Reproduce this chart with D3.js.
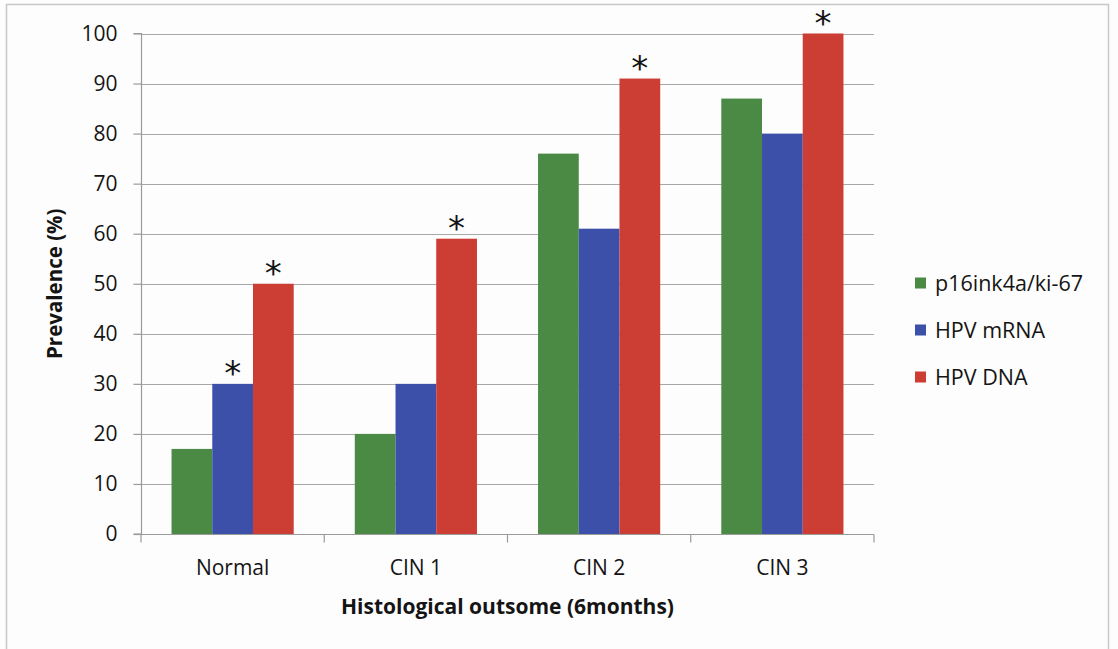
<!DOCTYPE html>
<html>
<head>
<meta charset="utf-8">
<script src="https://cdn.jsdelivr.net/npm/d3@7"></script>
<style>
  html, body { margin: 0; padding: 0; background: #fdfdfd; }
  svg { display: block; }
  text { font-family: "Open Sans", "Noto Sans", sans-serif; fill: #141414; }
</style>
</head>
<body>
<svg id="chart" width="1118" height="649"></svg>
<script>
// Histological outcome groups
const categories = ["Normal", "CIN 1", "CIN 2", "CIN 3"];
// Series names (legend order)
const seriesNames = ["p16ink4a/ki-67", "HPV mRNA", "HPV DNA"];
// Prevalence (%) per group, one array per series
const p16Values  = [17, 20, 76, 87];
const mrnaValues = [30, 30, 61, 80];
const dnaValues  = [50, 59, 91, 100];
// Asterisk markers: [category, series]
const starMarks = [["Normal", "HPV mRNA"], ["Normal", "HPV DNA"], ["CIN 1", "HPV DNA"], ["CIN 2", "HPV DNA"], ["CIN 3", "HPV DNA"]];
const yTicks = [0, 10, 20, 30, 40, 50, 60, 70, 80, 90, 100];

const colors = ["#4b8a45", "#3c50a9", "#cc3d33"];
const seriesValues = [p16Values, mrnaValues, dnaValues];

const svg = d3.select("#chart");

// Outer frame
svg.append("rect")
  .attr("x", 6.5).attr("y", 4.5)
  .attr("width", 1102).attr("height", 660)
  .attr("fill", "#fdfdfd").attr("stroke", "#c8c8c8").attr("stroke-width", 1.5);

const plot = { left: 141, right: 874, top: 33.5, bottom: 534 };

const x0 = d3.scaleBand().domain(categories).range([plot.left, plot.right]).paddingInner(0).paddingOuter(0);
// gap of 150% between groups: bars take 3/4.5 of the band
const x1 = d3.scaleBand().domain(seriesNames).range([0, x0.bandwidth()]).paddingInner(0).paddingOuter(0.75);
const y = d3.scaleLinear().domain([0, 100]).range([plot.bottom, plot.top]);

// Gridlines
svg.append("g").selectAll("line").data(yTicks.filter(t => t > 0)).join("line")
  .attr("x1", plot.left).attr("x2", plot.right)
  .attr("y1", d => Math.round(y(d)) + 0.5).attr("y2", d => Math.round(y(d)) + 0.5)
  .attr("stroke", "#a8a8a8").attr("stroke-width", 1.2);

// Bars
const groups = svg.append("g").selectAll("g").data(categories).join("g")
  .attr("transform", d => `translate(${x0(d)},0)`);
groups.selectAll("rect")
  .data((c, ci) => seriesNames.map((s, si) => ({ s, si, v: seriesValues[si][ci] })))
  .join("rect")
  .attr("x", d => x1(d.s))
  .attr("width", x1.bandwidth())
  .attr("y", d => y(d.v))
  .attr("height", d => y(0) - y(d.v))
  .attr("fill", d => colors[d.si]);

// Y axis
const yAxis = d3.axisLeft(y).tickValues(yTicks).tickSize(8).tickPadding(16);
const gy = svg.append("g").attr("transform", `translate(${plot.left + 0.5},0)`).call(yAxis);
gy.select(".domain").attr("stroke", "#9a9a9a").attr("stroke-width", 1.2).attr("d", `M-8,${plot.bottom}H0V${plot.top}H-8`);
gy.selectAll(".tick line").attr("stroke", "#9a9a9a").attr("stroke-width", 1.2);
gy.selectAll(".tick text").style("font-size", "21px").attr("fill", "#141414").attr("font-family", "Open Sans");

// X axis baseline and group separators
const gx = svg.append("g").attr("transform", `translate(0,${plot.bottom + 0.5})`);
gx.append("line").attr("x1", plot.left).attr("x2", plot.right).attr("stroke", "#9a9a9a").attr("stroke-width", 1.2);
const bounds = categories.map(c => x0(c)).concat([plot.right]);
gx.selectAll("line.sep").data(bounds).join("line").attr("class", "sep")
  .attr("x1", d => d).attr("x2", d => d).attr("y1", 0).attr("y2", 8)
  .attr("stroke", "#9a9a9a").attr("stroke-width", 1.2);
gx.selectAll("text.cat").data(categories).join("text").attr("class", "cat")
  .attr("x", d => x0(d) + x0.bandwidth() / 2)
  .attr("y", 40)
  .attr("text-anchor", "middle")
  .style("font-size", "21px")
  .text(d => d);

// Asterisks above bars
svg.append("g").selectAll("text").data(starMarks).join("text")
  .attr("x", d => x0(d[0]) + x1(d[1]) + x1.bandwidth() / 2)
  .attr("y", d => y(seriesValues[seriesNames.indexOf(d[1])][categories.indexOf(d[0])]) + 1)
  .attr("text-anchor", "middle")
  .style("font-size", "34px")
  .style("font-family", "DejaVu Sans")
  .text("*");

// Axis titles
svg.append("text")
  .attr("transform", `translate(62,${(plot.top + plot.bottom) / 2}) rotate(-90)`)
  .attr("text-anchor", "middle")
  .style("font-size", "20.5px").style("font-weight", "bold")
  .text("Prevalence (%)");
svg.append("text")
  .attr("x", (plot.left + plot.right) / 2).attr("y", 614)
  .attr("text-anchor", "middle")
  .style("font-size", "21px").style("font-weight", "bold")
  .text("Histological outsome (6months)");

// Legend
const legend = svg.append("g").selectAll("g").data(seriesNames).join("g")
  .attr("transform", (d, i) => `translate(915,${283 + i * 47})`);
legend.append("rect").attr("x", 0).attr("y", -5.5).attr("width", 11).attr("height", 11)
  .attr("fill", (d, i) => colors[i]);
legend.append("text").attr("x", 20).attr("y", 8)
  .style("font-size", "21.5px").text(d => d);
</script>
</body>
</html>
